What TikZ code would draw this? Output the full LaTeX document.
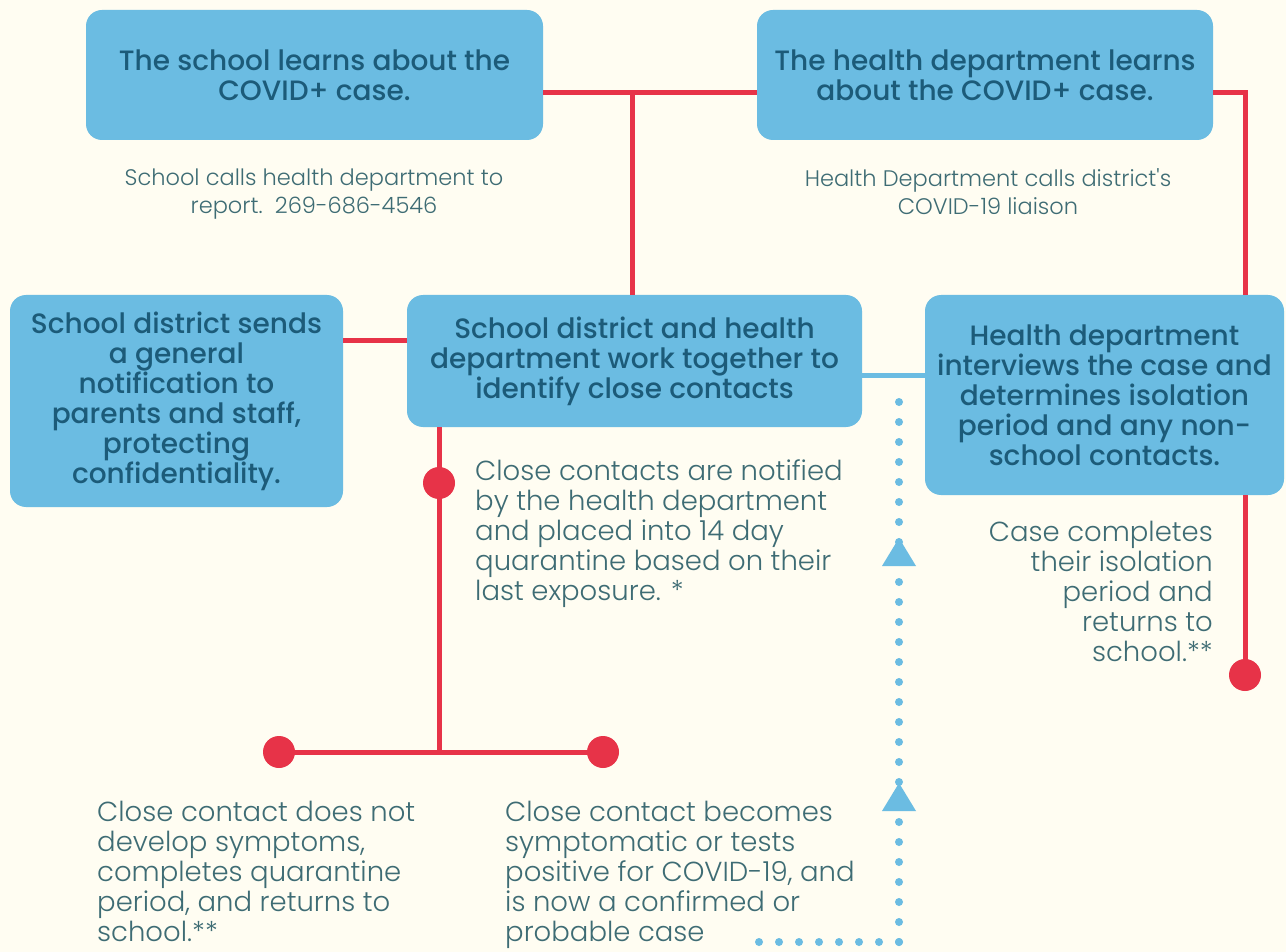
\documentclass[tikz,border=0pt]{standalone}
\usepackage{fontspec}
\setmainfont{Poppins}
\newfontfamily\boxfont{Poppins Medium}
\newfontfamily\lightfont{Poppins Light}
\definecolor{bgc}{HTML}{FFFDF2}
\definecolor{boxblue}{HTML}{6BBCE2}
\definecolor{boxtext}{HTML}{1C5B79}
\definecolor{notetext}{HTML}{3E6C74}
\definecolor{redc}{HTML}{E73348}
\begin{document}
\begin{tikzpicture}[x=1pt,y=-1pt,
  box/.style={draw=none, fill=boxblue, rounded corners=16pt, inner sep=0pt, align=center, text=boxtext, font=\boxfont\fontsize{28}{30}\selectfont},
  note/.style={inner sep=0pt, text=notetext, font=\lightfont\fontsize{27.5}{30}\selectfont},
  subnote/.style={inner sep=0pt, text=notetext, align=center, font=\lightfont\fontsize{22.5}{28}\selectfont},
  redline/.style={draw=redc, line width=5pt},
  blueline/.style={draw=boxblue, line width=5pt},
  bluedots/.style={draw=boxblue, line width=8pt, line cap=round, dash pattern=on 0pt off 20pt},
  reddot/.style={circle, fill=redc, minimum size=32pt, inner sep=0pt},
  uptri/.style={fill=boxblue}]
\path[fill=bgc] (0,0) rectangle (1286,952);
\useasboundingbox (0,0) rectangle (1286,952);

% boxes
\node[box, minimum width=457pt, minimum height=130pt] (b1) at (314.5,75) {The school learns about the\\COVID+ case.};
\node[box, minimum width=456pt, minimum height=130pt] (b2) at (985,75) {The health department learns\\about the COVID+ case.};
\node[box, minimum width=333pt, minimum height=212pt] (b3) at (176.5,401) {School district sends\\a general\\notification to\\parents and staff,\\protecting\\confidentiality.};
\node[box, minimum width=455pt, minimum height=132pt] (b4) at (634.5,361) {School district and health\\department work together to\\identify close contacts};
\node[box, minimum width=359pt, minimum height=200pt] (b5) at (1104.5,395) {Health department\\interviews the case and\\determines isolation\\period and any non-\\school contacts.};

% helper coordinates
\coordinate (h1) at (0,93);
\coordinate (h2) at (0,340);
\coordinate (h3) at (0,375);
\coordinate (v1) at (632,0);
\coordinate (v2) at (1245,0);
\coordinate (v3) at (439,0);

% dots
\node[reddot] (d1) at (439,483) {};
\node[reddot] (d2) at (279,752) {};
\node[reddot] (d3) at (603,752) {};
\node[reddot] (d4) at (1245,675) {};

% red connectors
\draw[redline] (b1.east |- h1) -- (b2.west |- h1);
\draw[redline] (v1 |- h1) -- (v1 |- b4.north);
\draw[redline] (b2.east |- h1) -| (v2 |- b5.north);
\draw[redline] (b3.east |- h2) -- (b4.west |- h2);
\draw[redline] (v3 |- b4.south) -- (v3 |- d2.center);
\draw[redline] (d2.center) -- (d3.center);
\draw[redline] (v2 |- b5.south) -- (d4.center);

% blue connector
\draw[blueline] (b4.east |- h3) -- (b5.west |- h3);

% dotted blue return path
\coordinate (c1) at (899,942);
\coordinate (c0) at (756,942);
\coordinate (ctop) at (899,389);
\draw[bluedots] (c1) -- (ctop);
\draw[bluedots] (c1) -- (c0);
\fill[uptri] (899,538) -- (916,566) -- (882,566) -- cycle;
\fill[uptri] (899,783) -- (916,811) -- (882,811) -- cycle;

% notes
\node[subnote, anchor=north] (s1) at (314,169) {School calls health department to\\report.\ \ 269-686-4546};
\node[subnote, anchor=north] (s2) at (988,168) {Health Department calls district's\\COVID-19 liaison};
\node[note, anchor=north west, align=left] (n1) at (475,459) {Close contacts are notified\\by the health department\\and placed into 14 day\\quarantine based on their\\last exposure. *};
\node[note, anchor=north east, align=right] (n2) at (1213,521) {Case completes\\their isolation\\period and\\returns to\\school.**};
\node[note, anchor=north west, align=left] (n3) at (97,801) {Close contact does not\\develop symptoms,\\completes quarantine\\period, and returns to\\school.**};
\node[note, anchor=north west, align=left] (n4) at (505,801) {Close contact becomes\\symptomatic or tests\\positive for COVID-19, and\\is now a confirmed or\\probable case};
\end{tikzpicture}
\end{document}
